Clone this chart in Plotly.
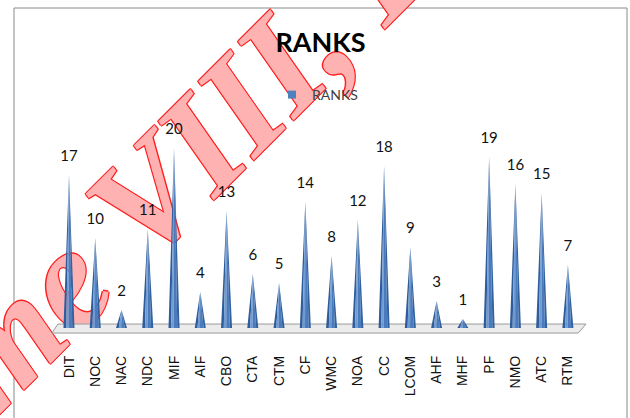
import plotly.graph_objects as go

categories = ["DIT", "NOC", "NAC", "NDC", "MIF", "AIF", "CBO", "CTA", "CTM", "CF",
              "WMC", "NOA", "CC", "LCOM", "AHF", "MHF", "PF", "NMO", "ATC", "RTM"]
ranks = [17, 10, 2, 11, 20, 4, 13, 6, 5, 14, 8, 12, 18, 9, 3, 1, 19, 16, 15, 7]
series_name = "RANKS"
chart_title = "RANKS"
watermark_text = "ume VIII, Is"

W, H = 630, 418
PL, PR, PT, PB = 14, 627, 8, 342  # plot area in pixels
X_RANGE = [-2.094, 21.25]
Y_RANGE = [-1.556, 35.56]


def pxx(px):
    return (px - PL) / (PR - PL)


def pxy(py):
    return (PB - py) / (PB - PT)


n = len(categories)
idx = list(range(n))
w = 0.21  # cone base half width (category units)

# slices of each cone: (left fraction, right fraction, colour)
slices = [(-1.0, -0.5, "#2f5c9a"), (-0.5, -0.05, "#6f9ad2"),
          (-0.05, 0.6, "#4a7bbd"), (0.6, 1.0, "#33629f")]

fig = go.Figure()

# floor slab
n_last = n - 1
floor_x = [-0.42, n_last + 0.69, n_last + 0.39, -0.65, -0.42]
floor_y = [0.44, 0.44, -0.56, -0.56, 0.44]
fig.add_trace(go.Scatter(x=floor_x, y=floor_y, fill="toself", mode="lines",
                         fillcolor="#ececec", line=dict(color="#9a9a9a", width=1),
                         hoverinfo="skip", showlegend=False))

for a, b, col in slices:
    xs, ys = [], []
    for i, v in zip(idx, ranks):
        xs += [i + a * w, i + b * w, i, i + a * w, None]
        ys += [0, 0, v, 0, None]
    fig.add_trace(go.Scatter(x=xs, y=ys, fill="toself", mode="lines",
                             fillcolor=col, line=dict(width=0, color=col),
                             hoverinfo="skip", showlegend=False))

# value labels (lifted slightly above the cone tips)
label_y = [v + 1.1 for v in ranks]
fig.add_trace(go.Scatter(x=idx, y=label_y, mode="text", text=[str(v) for v in ranks],
                         textposition="top center",
                         textfont=dict(family="Lato", size=15, color="#111111"),
                         cliponaxis=False, showlegend=False, hoverinfo="skip"))

# legend entry
fig.add_trace(go.Scatter(x=[None], y=[None], mode="markers", name=series_name,
                         marker=dict(symbol="square", size=8, color="#4f81bd")))

fig.update_layout(
    width=W, height=H,
    margin=dict(l=PL, r=W - PR, t=PT, b=H - PB),
    paper_bgcolor="white", plot_bgcolor="rgba(0,0,0,0)",
    title=dict(text="<b>%s</b>" % chart_title, xref="paper", x=0.5, xanchor="center",
               yref="container", y=1 - 43 / H, yanchor="middle",
               font=dict(family="Lato", size=27, color="#000000")),
    legend=dict(x=pxx(272), y=pxy(95), xanchor="left", yanchor="middle",
                bgcolor="rgba(0,0,0,0)", font=dict(family="Lato", size=14, color="#404040")),
    xaxis=dict(range=X_RANGE, tickvals=idx, ticktext=categories, tickangle=-90,
               showgrid=False, zeroline=False, showline=False, ticks="",
               ticklabelstandoff=10,
               tickfont=dict(family="Liberation Sans", size=14, color="#111111")),
    yaxis=dict(range=Y_RANGE, visible=False, showgrid=False, zeroline=False),
    showlegend=True,
)

# chart border
fig.add_shape(type="rect", xref="paper", yref="paper", x0=0, x1=1,
              y0=pxy(440), y1=1, line=dict(color="#8a8a8a", width=1),
              fillcolor="rgba(0,0,0,0)", layer="below")

# watermark (drawn beneath the chart marks)
cx, cy = 156, 166
fig.add_shape(type="rect", xref="paper", yref="paper",
              x0=pxx(cx - 1), x1=pxx(cx + 1), y0=pxy(cy + 1), y1=pxy(cy - 1),
              line=dict(width=0, color="rgba(0,0,0,0)"), fillcolor="rgba(0,0,0,0)",
              layer="below",
              label=dict(text="<b><i>%s</i></b>" % watermark_text, textangle=-45,
                         textposition="middle center",
                         font=dict(family="Liberation Serif", size=145,
                                   color="rgb(255,178,178)",
                                   shadow="1px 1px 0 #ff2020, -1px -1px 0 #ff2020, 1px -1px 0 #ff2020, -1px 1px 0 #ff2020")))

fig.write_html("out.html", post_script="document.body.style.margin='0';",
               config={"displayModeBar": False})
